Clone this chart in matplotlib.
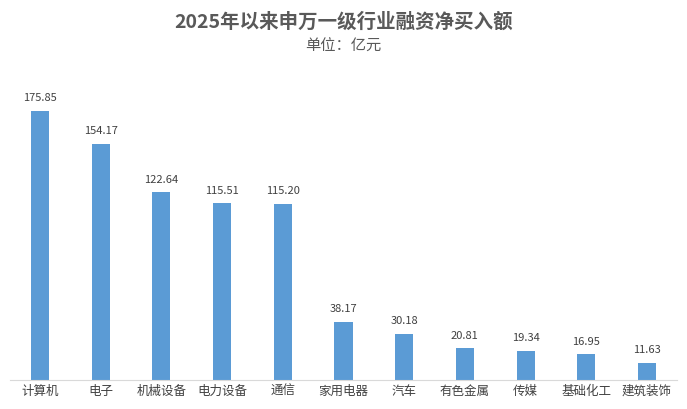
import matplotlib
matplotlib.use("Agg")
import matplotlib.pyplot as plt

categories = ["计算机","电子","机械设备","电力设备","通信","家用电器","汽车","有色金属","传媒","基础化工","建筑装饰"]
values = [175.85,154.17,122.64,115.51,115.20,38.17,30.18,20.81,19.34,16.95,11.63]

plt.rcParams["font.family"] = "Noto Sans CJK SC"
fig = plt.figure(figsize=(6.87,4.09), dpi=100)
ax = fig.add_axes([0.014, 0.07, 0.972, 0.72])
x = range(len(categories))
ax.bar(x, values, width=0.3, color="#5B9BD5")
for xi, v in zip(x, values):
    ax.text(xi, v + 5, f"{v:.2f}", ha="center", va="bottom", fontsize=8, color="#404040")
ax.set_xticks(list(x))
ax.set_xticklabels(categories, fontsize=9, color="#404040")
ax.set_xlim(-0.5, len(categories)-0.5)
ax.set_ylim(0, 192)
ax.set_yticks([])
for s in ["top","right","left"]:
    ax.spines[s].set_visible(False)
ax.spines["bottom"].set_color("#D9D9D9")
ax.tick_params(axis="x", length=0, pad=3)
fig.text(0.5, 0.945, "2025年以来申万一级行业融资净买入额", ha="center", va="center", fontsize=14, fontweight="bold", color="#595959")
fig.text(0.5, 0.888, "单位：亿元", ha="center", va="center", fontsize=11, color="#595959")
fig.savefig("out.png", dpi=100)
